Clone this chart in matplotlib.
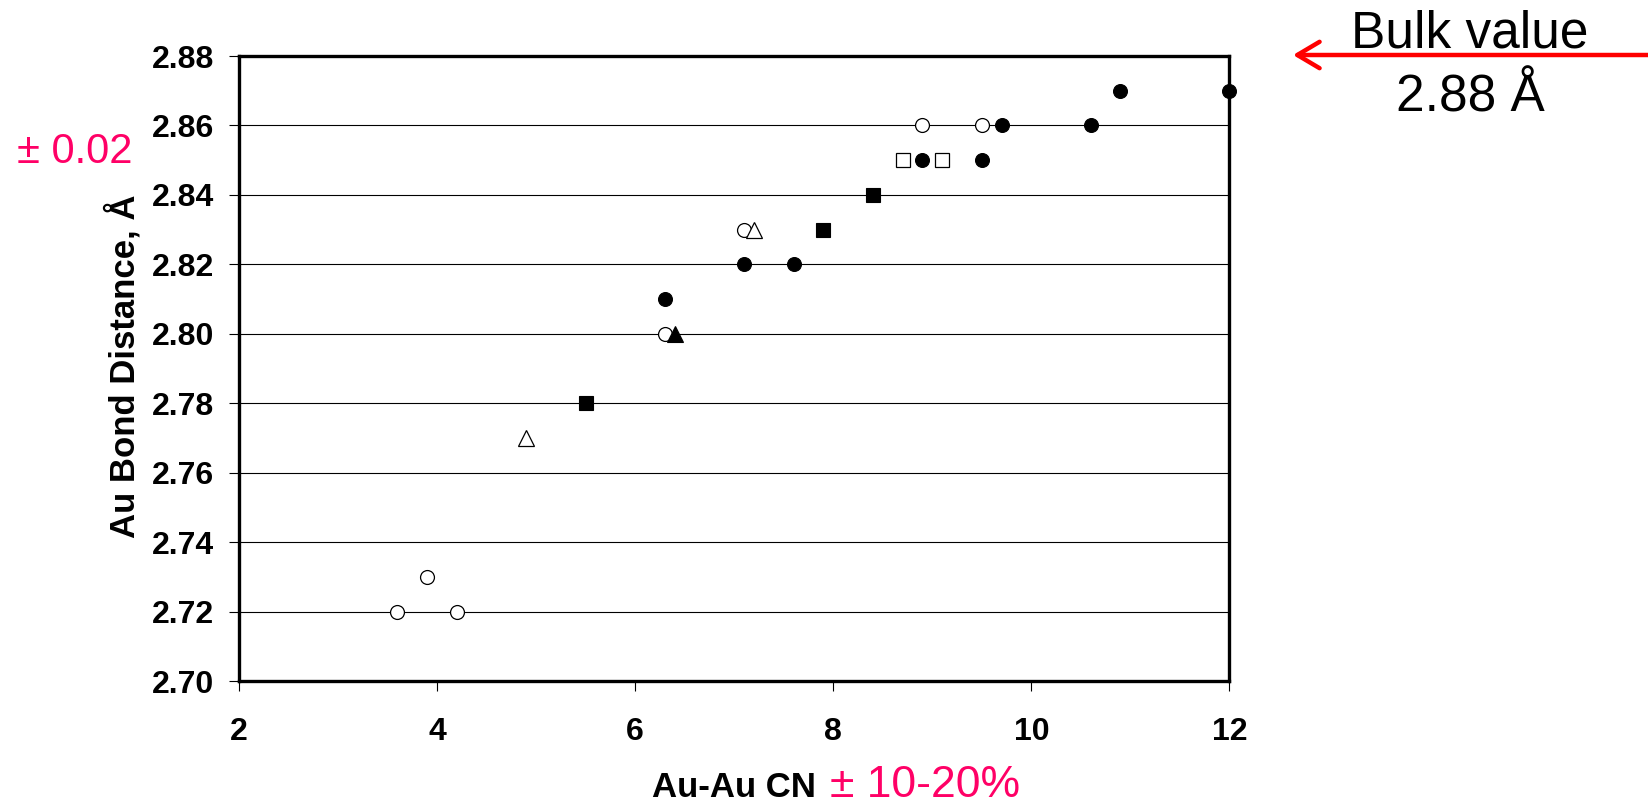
#import necessary libraries
import matplotlib.pyplot as plt
from matplotlib.patches import FancyArrowPatch

plt.rcParams['font.family'] = ['Liberation Sans', 'DejaVu Sans']

#data: Au-Au coordination number vs Au bond distance
filled_circle_cn = [6.3, 7.1, 7.6, 8.9, 9.5, 9.7, 10.6, 10.9, 12.0]
filled_circle_r = [2.81, 2.82, 2.82, 2.85, 2.85, 2.86, 2.86, 2.87, 2.87]
open_circle_cn = [3.6, 3.9, 4.2, 6.3, 7.1, 8.9, 9.5]
open_circle_r = [2.72, 2.73, 2.72, 2.80, 2.83, 2.86, 2.86]
open_square_cn = [8.7, 9.1]
open_square_r = [2.85, 2.85]
filled_square_cn = [5.5, 7.9, 8.4]
filled_square_r = [2.78, 2.83, 2.84]
open_triangle_cn = [4.9, 7.2]
open_triangle_r = [2.77, 2.83]
filled_triangle_cn = [6.4]
filled_triangle_r = [2.80]

x_ticks = [2, 4, 6, 8, 10, 12]
y_ticks = [2.70, 2.72, 2.74, 2.76, 2.78, 2.80, 2.82, 2.84, 2.86, 2.88]

pink = '#FF0066'
angstrom = '\u00c5'

#figure and axes placement
fig = plt.figure(figsize=(16.48, 8.07), dpi=100)
ax = fig.add_axes([0.145, 0.1561, 0.601, 0.7745])

#horizontal grid lines
for y in y_ticks[1:-1]:
    ax.axhline(y, color='black', lw=0.8, zorder=1)

#markers
ax.plot(open_circle_cn, open_circle_r, 'o', ms=10, mfc='white', mec='black', mew=0.9, ls='none', zorder=3)
ax.plot(open_square_cn, open_square_r, 's', ms=10, mfc='white', mec='black', mew=0.9, ls='none', zorder=3)
ax.plot(open_triangle_cn, open_triangle_r, '^', ms=11, mfc='white', mec='black', mew=0.9, ls='none', zorder=3)
ax.plot(filled_circle_cn, filled_circle_r, 'o', ms=10, mfc='black', mec='black', mew=0.8, ls='none', zorder=4, clip_on=False)
ax.plot(filled_square_cn, filled_square_r, 's', ms=10, mfc='black', mec='black', mew=0.8, ls='none', zorder=4)
ax.plot(filled_triangle_cn, filled_triangle_r, '^', ms=11, mfc='black', mec='black', mew=0.8, ls='none', zorder=4)

#axis limits, ticks and frame
ax.set_xlim(2, 12)
ax.set_ylim(2.70, 2.88)
ax.set_xticks(x_ticks)
ax.set_yticks(y_ticks)
ax.set_xticklabels([str(t) for t in x_ticks])
ax.set_yticklabels(['%.2f' % t for t in y_ticks])
for lab in ax.get_xticklabels() + ax.get_yticklabels():
    lab.set_fontweight('bold')
    lab.set_fontsize(23)
ax.tick_params(axis='x', direction='out', length=7, width=0.8, pad=19)
ax.tick_params(axis='y', direction='out', length=7, width=0.8, pad=11)
for side in ax.spines:
    ax.spines[side].set_linewidth(2.4)
    ax.spines[side].set_zorder(5)

#axis titles with the pink error notes
fig.text(0.0745, 0.5465, 'Au Bond Distance, ' + angstrom, rotation=90, ha='center', va='center',
         fontsize=25, fontweight='bold')
fig.text(0.3956, 0.012, 'Au-Au CN', ha='left', va='baseline', fontsize=25, fontweight='bold')
fig.text(0.5036, 0.012, '± 10-20%', ha='left', va='baseline', fontsize=32, color=pink)
fig.text(0.0103, 1 - 163 / 807, '± 0.02', ha='left', va='baseline', fontsize=30, color=pink)

#bulk value note with red arrow
fig.text(0.892, 1 - 47 / 807, 'Bulk value', ha='center', va='baseline', fontsize=37)
fig.text(0.892, 1 - 111 / 807, '2.88 ' + angstrom, ha='center', va='baseline', fontsize=37)
arrow = FancyArrowPatch((1.0, 1 - 55 / 807), (1293 / 1648, 1 - 55 / 807),
                        transform=fig.transFigure, arrowstyle='->,head_length=16,head_width=9.5',
                        color='red', lw=3.2, mutation_scale=1, capstyle='round',
                        shrinkA=0, shrinkB=0)
fig.add_artist(arrow)

#save the plot
fig.savefig('out.png', dpi=100)
